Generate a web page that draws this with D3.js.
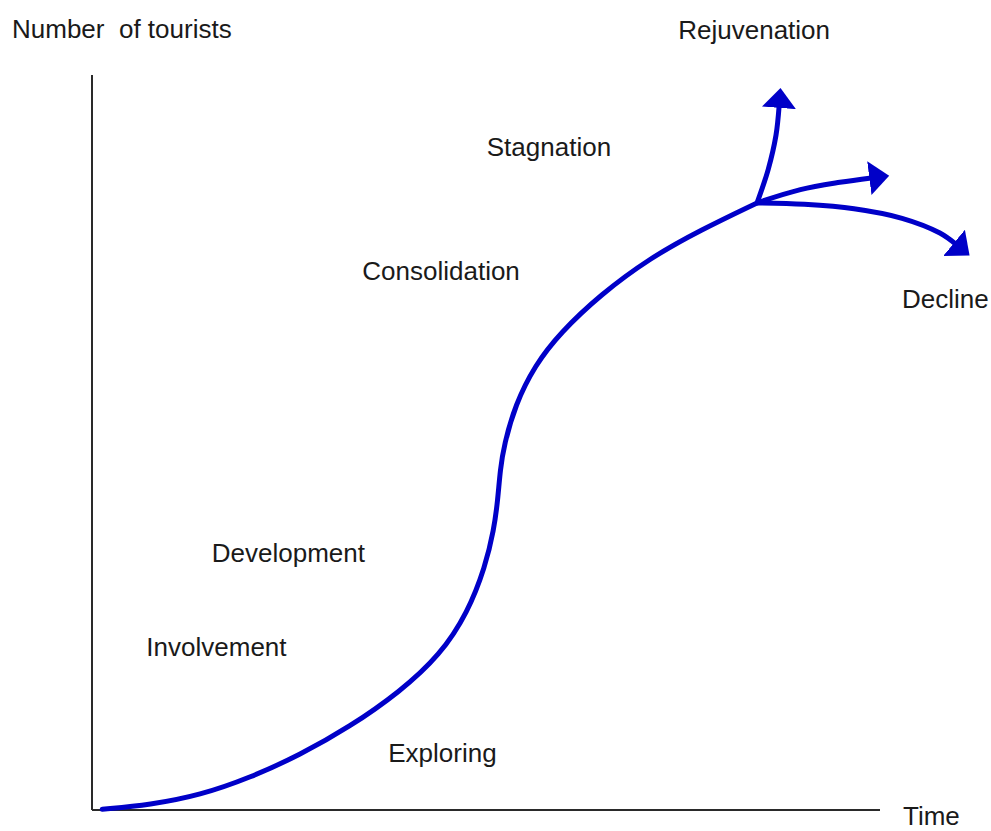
<!DOCTYPE html>
<html>
<head>
<meta charset="utf-8">
<script src="https://cdn.jsdelivr.net/npm/d3@7"></script>
<style>
  html, body { margin: 0; padding: 0; background: #fff; }
  svg { display: block; }
  text { font-family: "Liberation Sans", Arial, sans-serif; fill: #1a1a1a; }
</style>
</head>
<body>
<script>
// ---- data (time, number of tourists) in arbitrary units 0-100 ----
const mainCurve = [
  [1.3, 0.1], [7.4, 0.7], [13.7, 2.0], [20.1, 4.4], [26.4, 7.5], [32.7, 11.3],
  [39.1, 16.1], [44.2, 21.1], [47.7, 26.9], [49.9, 33.1], [51.0, 38.1],
  [51.5, 42.2], [51.8, 46.3], [52.3, 49.7], [53.7, 55.1], [56.2, 60.5], [59.4, 64.9],
  [64.5, 70.1], [70.8, 75.1], [77.2, 78.9], [84.4, 82.6]
];
const rejuvenationBranch = [[84.4, 82.6], [85.8, 87.1], [86.8, 91.8], [87.2, 95.8]];
const stagnationBranch   = [[84.4, 82.6], [89.9, 84.4], [94.9, 85.4], [98.9, 86.0]];
const declineBranch      = [[84.4, 82.6], [90.4, 82.4], [96.7, 81.8], [102.8, 80.5], [107.6, 78.5], [109.6, 77.0]];

const stageLabels = ["Exploring", "Involvement", "Development", "Consolidation", "Stagnation", "Rejuvenation", "Decline"];
const stageX = [37.6, 6.9, 15.2, 34.3, 50.1, 74.4, 102.8];
const stageY = [6.5, 20.9, 33.8, 72.1, 89.0, 104.9, 68.3];

const axisTitles = ["Time", "Number  of tourists"];

// ---- layout ----
const W = 991, H = 831;
const x = d3.scaleLinear().domain([0, 100]).range([92, 880]);
const y = d3.scaleLinear().domain([0, 100]).range([810, 75]);

const svg = d3.select("body").append("svg").attr("width", W).attr("height", H);
svg.append("rect").attr("width", W).attr("height", H).attr("fill", "#fff");

const blue = "#0000c8";

const defs = svg.append("defs");
defs.append("marker")
  .attr("id", "arrow")
  .attr("markerUnits", "userSpaceOnUse")
  .attr("viewBox", "0 -18 22 36")
  .attr("markerWidth", 22).attr("markerHeight", 36)
  .attr("refX", 2).attr("refY", 0)
  .attr("orient", "auto")
  .append("path")
  .attr("d", "M0,-17 L20,0 L0,17 Z")
  .attr("fill", blue);

// axes (plain lines, no ticks)
svg.append("line")
  .attr("x1", x(0)).attr("x2", x(0)).attr("y1", y(100)).attr("y2", y(0))
  .attr("stroke", "#2a2a2a").attr("stroke-width", 2);
svg.append("line")
  .attr("x1", x(0)).attr("x2", x(100)).attr("y1", y(0)).attr("y2", y(0))
  .attr("stroke", "#2a2a2a").attr("stroke-width", 2);

const mainLine = d3.line().x(d => x(d[0])).y(d => y(d[1])).curve(d3.curveBasis);
const line = d3.line().x(d => x(d[0])).y(d => y(d[1])).curve(d3.curveCatmullRom.alpha(0.5));

svg.append("path").datum(mainCurve).attr("d", mainLine)
  .attr("fill", "none").attr("stroke", blue).attr("stroke-width", 5).attr("stroke-linecap", "round");

[rejuvenationBranch, stagnationBranch, declineBranch].forEach(b => {
  svg.append("path").datum(b).attr("d", line)
    .attr("fill", "none").attr("stroke", blue).attr("stroke-width", 5)
    .attr("marker-end", "url(#arrow)");
});

// labels
svg.selectAll("text.stage").data(stageLabels).enter().append("text")
  .attr("class", "stage")
  .attr("x", (d, i) => x(stageX[i]))
  .attr("y", (d, i) => y(stageY[i]))
  .attr("font-size", 26)
  .text(d => d);

svg.append("text").attr("x", 903).attr("y", 825).attr("font-size", 26).text(axisTitles[0]);
svg.append("text").attr("x", 12).attr("y", 38).attr("font-size", 26)
  .style("white-space", "pre").text(axisTitles[1]);
</script>
</body>
</html>
